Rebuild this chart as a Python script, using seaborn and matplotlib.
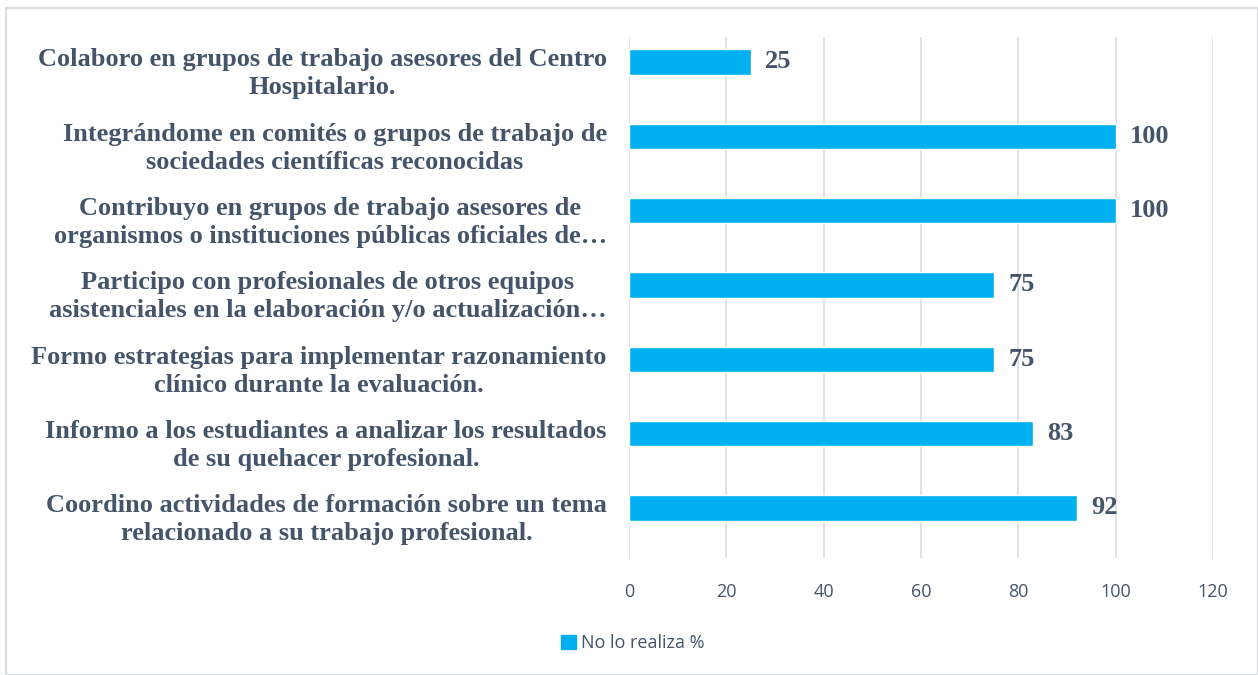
import pandas as pd
import matplotlib.pyplot as plt
import seaborn as sns
from matplotlib.patches import Rectangle, Patch

# Chart data
categorias = [
    'Colaboro en grupos de trabajo asesores del Centro\nHospitalario.',
    'Integrándome en comités o grupos de trabajo de\nsociedades científicas reconocidas',
    'Contribuyo en grupos de trabajo asesores de\norganismos o instituciones públicas oficiales de…',
    'Participo con profesionales de otros equipos\nasistenciales en la elaboración y/o actualización…',
    'Formo estrategias para implementar razonamiento\nclínico durante la evaluación.',
    'Informo a los estudiantes a analizar los resultados\nde su quehacer profesional.',
    'Coordino actividades de formación sobre un tema\nrelacionado a su trabajo profesional.',
]
valores = [25, 100, 100, 75, 75, 83, 92]
serie = 'No lo realiza %'
x_ticks = [0, 20, 40, 60, 80, 100, 120]

df = pd.DataFrame({'categoria': categorias, 'valor': valores})

texto = '#44546A'
azul = '#00B0F0'

sns.set_theme(style='white')
plt.rcParams['font.family'] = ['Open Sans', 'DejaVu Sans']

fig = plt.figure(figsize=(12.58, 6.75), dpi=100)
ax = fig.add_axes([0.5, 0.1733, 0.4642, 0.7719])

sns.barplot(data=df, x='valor', y='categoria', color=azul, width=0.34,
            saturation=1, ax=ax)

ax.set_xlim(0, 120)
ax.set_ylim(6.673, -0.336)
ax.set_xticks(x_ticks)
ax.set_xlabel('')
ax.set_ylabel('')
ax.grid(axis='x', color='#D9DDE3', linewidth=1.2)
ax.set_axisbelow(True)
for s in ax.spines.values():
    s.set_visible(False)

ax.tick_params(axis='x', length=0, pad=18, labelsize=13, labelcolor=texto)
ax.tick_params(axis='y', length=0, labelleft=False)

# category labels sit a bit below the bar centre, like the original
for i, cat in enumerate(categorias):
    ax.annotate(cat, xy=(0, i), xytext=(-16, -8.5), textcoords='offset points',
                ha='right', va='center', multialignment='center',
                linespacing=1.28, fontfamily=['Liberation Serif'],
                fontweight='bold', fontsize=19, color=texto,
                annotation_clip=False)

for i, v in enumerate(valores):
    ax.text(v + 3, i, str(v), va='center', ha='left',
            fontfamily=['Liberation Serif'], fontweight='bold',
            fontsize=19, color=texto)

leg = fig.legend(handles=[Patch(color=azul, label=serie)], loc='center',
                 bbox_to_anchor=(0.503, 0.047), frameon=False,
                 handlelength=0.8, handleheight=0.8, handletextpad=0.3,
                 fontsize=13)
for t in leg.get_texts():
    t.set_color(texto)

fig.patches.append(Rectangle((0.005, 0.0), 0.995, 0.988, transform=fig.transFigure,
                             fill=False, edgecolor='#D9DDE3', linewidth=1.5))

fig.savefig('out.png', dpi=100)
